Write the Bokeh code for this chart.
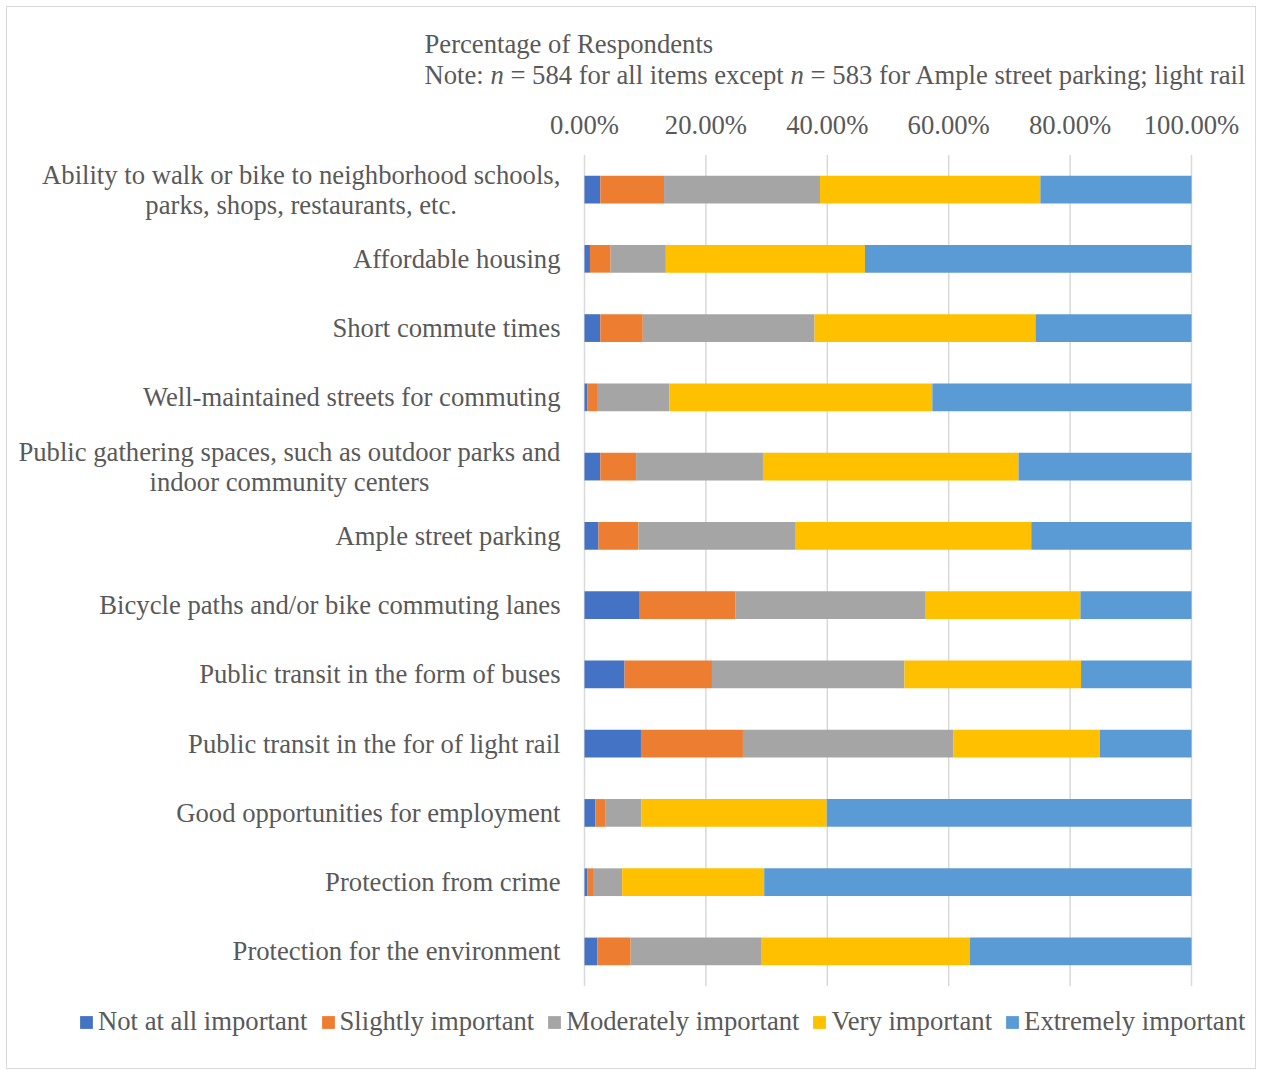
from bokeh.plotting import figure
from bokeh.models import (Range1d, Label, Legend, LegendItem, ColumnDataSource)
from bokeh.core.properties import value
from bokeh.embed import file_html
from bokeh.resources import INLINE

categories = [
    "Ability to walk or bike to neighborhood schools,\nparks, shops, restaurants, etc.",
    "Affordable housing",
    "Short commute times",
    "Well-maintained streets for commuting",
    "Public gathering spaces, such as outdoor parks and\nindoor community centers",
    "Ample street parking",
    "Bicycle paths and/or bike commuting lanes",
    "Public transit in the form of buses",
    "Public transit in the for of light rail",
    "Good opportunities for employment",
    "Protection from crime",
    "Protection for the environment",
]

series = ["Not at all important", "Slightly important", "Moderately important",
          "Very important", "Extremely important"]
colors = ["#4472C4", "#ED7D31", "#A5A5A5", "#FFC000", "#5B9BD5"]

# percentages of respondents
not_at_all = [2.6, 0.9, 2.6, 0.5, 2.6, 2.3, 9.1, 6.6, 9.3, 1.8, 0.5, 2.1]
slightly   = [10.5, 3.4, 7.0, 1.7, 5.9, 6.6, 15.8, 14.4, 16.8, 1.7, 0.9, 5.5]
moderately = [25.7, 9.1, 28.3, 11.8, 20.9, 25.9, 31.2, 31.7, 34.7, 5.9, 4.8, 21.6]
very       = [36.3, 32.8, 36.4, 43.3, 42.1, 38.8, 25.6, 29.1, 24.1, 30.5, 23.4, 34.3]
extremely  = [24.9, 53.8, 25.7, 42.7, 28.5, 26.4, 18.3, 18.2, 15.1, 60.1, 70.4, 36.5]

x_ticks = [0.0, 0.2, 0.4, 0.6, 0.8, 1.0]
x_tick_labels = ["0.00%", "20.00%", "40.00%", "60.00%", "80.00%", "100.00%"]

FONT = "Liberation Serif"
TXT = "#595959"
FS = "26.67px"

# ---- layout (pixels inside the canvas) ----
W, H = 1248, 1061
PX0, PX1 = 577, 1184          # plot area left / right
PY_TOP, PY_BOT = 147.4, 978.6  # plot area top / bottom
n = len(categories)
ppx = (PX1 - PX0)              # pixels per unit x
ppy = (PY_BOT - PY_TOP) / n    # pixels per category
x_start, x_end = -PX0 / ppx, (W - PX0) / ppx
y_start, y_end = -(H - PY_BOT) / ppy, n + PY_TOP / ppy

ypos = [n - 1 - i + 0.5 for i in range(n)]

data = {"cat": categories, "y": ypos}
for name, vals in zip(series, [not_at_all, slightly, moderately, very, extremely]):
    data[name] = [v / 100.0 for v in vals]
source = ColumnDataSource(data)

p = figure(width=W, height=H,
           x_range=Range1d(x_start, x_end), y_range=Range1d(y_start, y_end),
           x_axis_type=None, y_axis_type=None,
           output_backend="svg", toolbar_location=None,
           min_border=0, min_border_left=0, min_border_right=0,
           min_border_top=0, min_border_bottom=0)
p.outline_line_color = None
p.background_fill_color = "white"
p.border_fill_color = "white"
p.styles = {"margin": "7px 0 0 7px", "outline": "1px solid #d9d9d9"}

# vertical gridlines over the plot area
p.segment(x0=x_ticks, y0=[0] * len(x_ticks), x1=x_ticks, y1=[n] * len(x_ticks),
          line_color="#d9d9d9", line_width=1.5)

renderers = p.hbar_stack(series, y="y", height=0.4, color=colors, source=source,
                         line_color=None)

# x tick labels (top)
p.text(x=x_ticks, y=[n] * len(x_ticks), text=x_tick_labels, y_offset=-15,
       text_align="center", text_baseline="bottom",
       text_font=value(FONT), text_font_size=value(FS), text_color=TXT)

# category labels
single = [(c, y) for c, y in zip(categories, ypos) if "\n" not in c]
p.text(x=[0] * len(single), y=[y for _, y in single], text=[c for c, _ in single],
       x_offset=-24, text_align="right", text_baseline="middle",
       text_font=value(FONT), text_font_size=value(FS), text_color=TXT)

wrap_width = {categories[0]: 518.6, categories[4]: 542.2}   # width of the longest line, px
wrapped = [(c, y) for c, y in zip(categories, ypos) if "\n" in c]
p.text(x=[0] * len(wrapped), y=[y for _, y in wrapped], text=[c for c, _ in wrapped],
       x_offset=[-(24 + wrap_width[c] / 2) for c, _ in wrapped],
       text_align="center", text_baseline="middle", text_line_height=1.0,
       text_font=value(FONT), text_font_size=value(FS), text_color=TXT)

# axis title (screen units from the canvas bottom-left)
title_parts = [
    ("Percentage of Respondents", 417, 1025, "normal"),
    ("Note:", 417, 994, "normal"),
    ("n", 482.9, 994, "italic"),
    ("= 584 for all items except", 502.9, 994, "normal"),
    ("n", 783.1, 994, "italic"),
    ("= 583 for Ample street parking; light rail", 803.1, 994, "normal"),
]
for txt, x, y, style in title_parts:
    p.add_layout(Label(x=x, y=y, x_units="screen", y_units="screen", text=txt,
                       text_font=FONT, text_font_size=FS, text_color=TXT,
                       text_font_style=style, text_baseline="alphabetic",
                       text_align="left"))

legend = Legend(items=[LegendItem(label=s, renderers=[r]) for s, r in zip(series, renderers)],
                orientation="horizontal", location=(71, 31),
                glyph_width=16, glyph_height=16, label_standoff=4, spacing=12,
                padding=0, margin=0, border_line_color=None, background_fill_alpha=0,
                label_text_font=FONT, label_text_font_size=FS, label_text_color=TXT)
p.add_layout(legend, "center")

open("out.html", "w").write(file_html(p, INLINE))
